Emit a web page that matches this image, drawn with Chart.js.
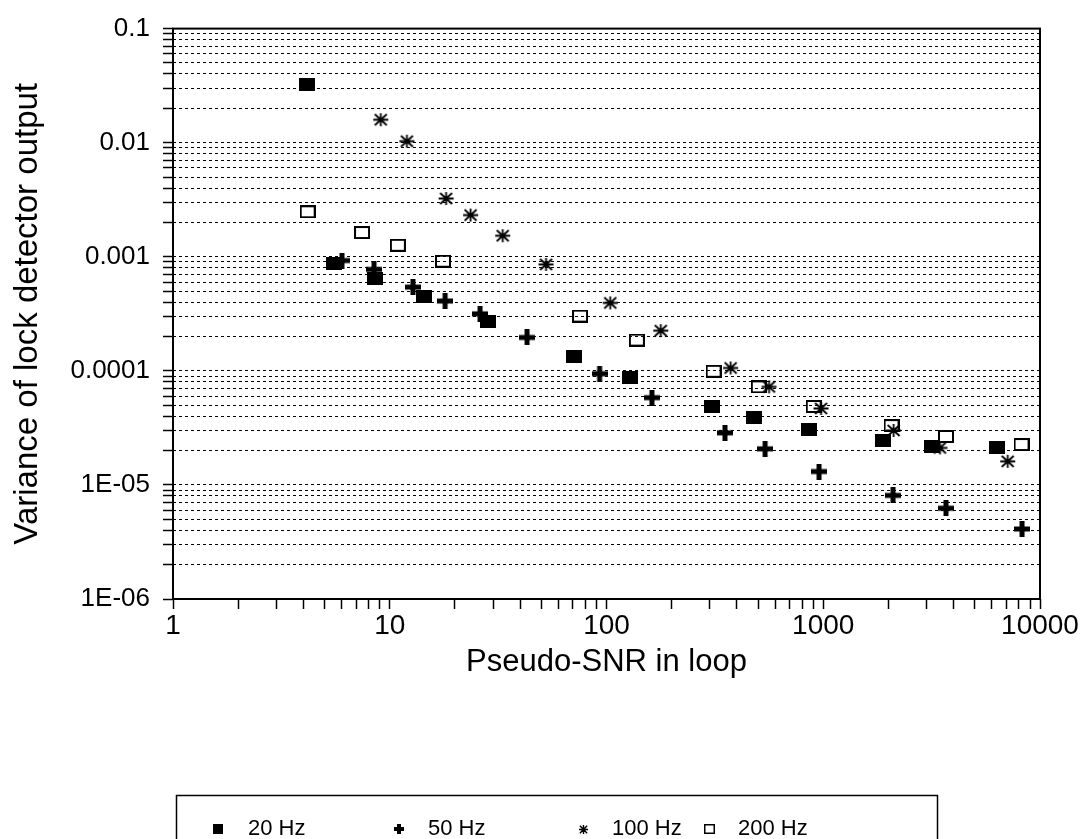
<!DOCTYPE html>
<html>
<head>
<meta charset="utf-8">
<script src="https://cdn.jsdelivr.net/npm/chart.js@4.4.1/dist/chart.umd.min.js"></script>
<style>
  html, body { margin: 0; padding: 0; background: #fff; }
  #wrap { width: 1089px; height: 839px; position: relative; }
</style>
</head>
<body>
<div id="wrap"><canvas id="c" width="1089" height="839"></canvas></div>
<script>
// ---------- data ----------
const seriesNames = ['20 Hz', '50 Hz', '100 Hz', '200 Hz'];

const x20 = [4.15, 5.53, 8.55, 14.4, 28.4, 70.8, 128, 307, 480, 860, 1888, 3176, 6336];
const y20 = [0.0321, 0.000873, 0.000647, 0.000444, 0.00027, 0.000134, 8.67e-5, 4.87e-5, 3.91e-5, 3.08e-5, 2.47e-5, 2.19e-5, 2.11e-5];

const x50 = [6.02, 8.46, 12.8, 18.0, 26.1, 43.0, 92.9, 162, 352, 539, 956, 2099, 3683, 8260];
const y50 = [0.000927, 0.000775, 0.000542, 0.000409, 0.000316, 0.000196, 9.44e-5, 5.82e-5, 2.86e-5, 2.07e-5, 1.31e-5, 8.09e-6, 6.25e-6, 4.11e-6];

const x100 = [9.09, 12.0, 18.2, 23.6, 33.2, 52.6, 104, 178, 374, 562, 977, 2113, 3456, 7097];
const y100 = [0.0159, 0.0103, 0.00324, 0.00232, 0.00153, 0.000857, 0.000394, 0.000225, 0.000106, 7.24e-5, 4.68e-5, 3.0e-5, 2.11e-5, 1.61e-5];

const x200 = [4.18, 7.45, 10.9, 17.6, 75.5, 138, 312, 504, 904, 2065, 3683, 8220];
const y200 = [0.00248, 0.00163, 0.00126, 0.000914, 0.000302, 0.000186, 9.91e-5, 7.24e-5, 4.87e-5, 3.31e-5, 2.66e-5, 2.26e-5];

const xTickLabels = ['1', '10', '100', '1000', '10000'];
const yTickLabels = ['1E-06', '1E-05', '0.0001', '0.001', '0.01', '0.1'];

const xTitle = 'Pseudo-SNR in loop';
const yTitle = 'Variance of lock detector output';

// ---------- marker images ----------
function mk(w, h, draw) {
  const c = document.createElement('canvas');
  c.width = w; c.height = h;
  const g = c.getContext('2d');
  g.fillStyle = '#000'; g.strokeStyle = '#000';
  draw(g, w, h);
  return c;
}
function fillSquare(w, h) { return mk(w, h, (g) => g.fillRect(0, 0, w, h)); }
function openSquare(w, h, lw) { return mk(w, h, (g) => { g.lineWidth = lw; g.strokeRect(lw / 2, lw / 2, w - lw, h - lw); }); }
function plusMark(s, t) { return mk(s, s, (g) => { const o = (s - t) / 2; g.fillRect(0, o, s, t); g.fillRect(o, 0, t, s); }); }
function starMark(w, h, lw) {
  return mk(w, h, (g) => {
    g.lineWidth = lw; g.lineCap = 'butt';
    const cx = w / 2, cy = h / 2, rx = w / 2 - 1, ry = h / 2 - 1;
    g.beginPath();
    g.moveTo(cx - rx, cy); g.lineTo(cx + rx, cy);
    g.moveTo(cx, cy - ry); g.lineTo(cx, cy + ry);
    g.moveTo(cx - rx * 0.8, cy - ry * 0.85); g.lineTo(cx + rx * 0.8, cy + ry * 0.85);
    g.moveTo(cx + rx * 0.8, cy - ry * 0.85); g.lineTo(cx - rx * 0.8, cy + ry * 0.85);
    g.stroke();
  });
}

const markers = [fillSquare(16, 13), plusMark(16, 5), starMark(17, 15, 1.8), openSquare(16, 13, 2)];
const legendMarkers = [fillSquare(10, 10), plusMark(10, 4), starMark(11, 11, 1.4), openSquare(11, 10, 1.5)];

function pts(xs, ys) { return xs.map((x, i) => ({ x: x, y: ys[i] })); }
const seriesX = [x20, x50, x100, x200];
const seriesY = [y20, y50, y100, y200];

const datasets = seriesNames.map((name, i) => ({
  label: name,
  data: pts(seriesX[i], seriesY[i]),
  pointStyle: markers[i],
  pointRadius: 8,
  pointHoverRadius: 8,
  showLine: false,
  borderColor: '#000',
  backgroundColor: '#000'
}));

// ---------- tick builders (decade labels + 2..9 minors) ----------
function logTicks(labels) {
  const out = [];
  labels.forEach((lbl, i) => {
    const base = Number(lbl);
    out.push({ value: base, major: true, lbl: lbl });
    if (i < labels.length - 1) {
      for (let k = 2; k <= 9; k++) out.push({ value: base * k, major: false, lbl: '' });
    }
  });
  return out;
}

const FONT = "'Liberation Sans', Arial, Helvetica, sans-serif";

// ---------- frame + legend plugin ----------
const framePlugin = {
  id: 'frame',
  afterDatasetsDraw(chart) {
    const { ctx, chartArea: a } = chart;
    ctx.save();
    ctx.strokeStyle = '#000';
    ctx.lineWidth = 2;
    ctx.strokeRect(a.left, a.top, a.right - a.left, a.bottom - a.top);
    ctx.restore();
  },
  afterDraw(chart) {
    const ctx = chart.ctx;
    ctx.save();
    // legend box
    ctx.strokeStyle = '#000';
    ctx.lineWidth = 1.5;
    ctx.strokeRect(176.5, 795.5, 761, 80);
    const markX = [218, 399, 583, 709];
    const textX = [248, 428, 612, 738];
    const cy = 829;
    ctx.fillStyle = '#000';
    ctx.font = '22px ' + FONT;
    ctx.textBaseline = 'middle';
    ctx.textAlign = 'left';
    chart.data.datasets.forEach((ds, i) => {
      const m = legendMarkers[i];
      ctx.drawImage(m, Math.round(markX[i] - m.width / 2), Math.round(cy - m.height / 2));
      ctx.fillText(ds.label, textX[i], cy);
    });
    ctx.restore();
  }
};

new Chart(document.getElementById('c'), {
  type: 'scatter',
  data: { datasets: datasets },
  plugins: [framePlugin],
  options: {
    responsive: false,
    animation: false,
    events: [],
    layout: { padding: { left: 0, top: 21, right: 49, bottom: 150 } },
    plugins: { legend: { display: false }, tooltip: { enabled: false } },
    scales: {
      x: {
        type: 'logarithmic',
        min: 1, max: 10000,
        afterBuildTicks: (s) => { s.ticks = logTicks(xTickLabels); },
        afterFit: (s) => { s.height = 90; },
        ticks: {
          autoSkip: false, maxRotation: 0, padding: 0,
          color: '#000', font: { family: FONT, size: 28 },
          callback: (v, i, t) => t[i].lbl
        },
        grid: { drawOnChartArea: false, drawTicks: true, tickLength: 10, tickColor: '#000', tickWidth: 1.5 },
        border: { display: false },
        title: { display: true, text: xTitle, color: '#000', font: { family: FONT, size: 31 }, padding: { top: 0, bottom: 8 } }
      },
      y: {
        type: 'logarithmic',
        min: 1e-6, max: 0.1,
        afterBuildTicks: (s) => { s.ticks = logTicks(yTickLabels); },
        afterFit: (s) => { s.width = 173; },
        ticks: {
          autoSkip: false, padding: 13,
          color: '#000', font: { family: FONT, size: 26 },
          callback: (v, i, t) => t[i].lbl
        },
        grid: { drawOnChartArea: true, drawTicks: true, tickLength: 10, color: '#000', lineWidth: 1, tickColor: '#000', tickWidth: 1.5, tickBorderDash: [] },
        border: { display: false, dash: [3, 3] },
        title: { display: true, text: yTitle, color: '#000', font: { family: FONT, size: 33 }, padding: { top: 8, bottom: 0 } }
      }
    }
  }
});
</script>
</body>
</html>
